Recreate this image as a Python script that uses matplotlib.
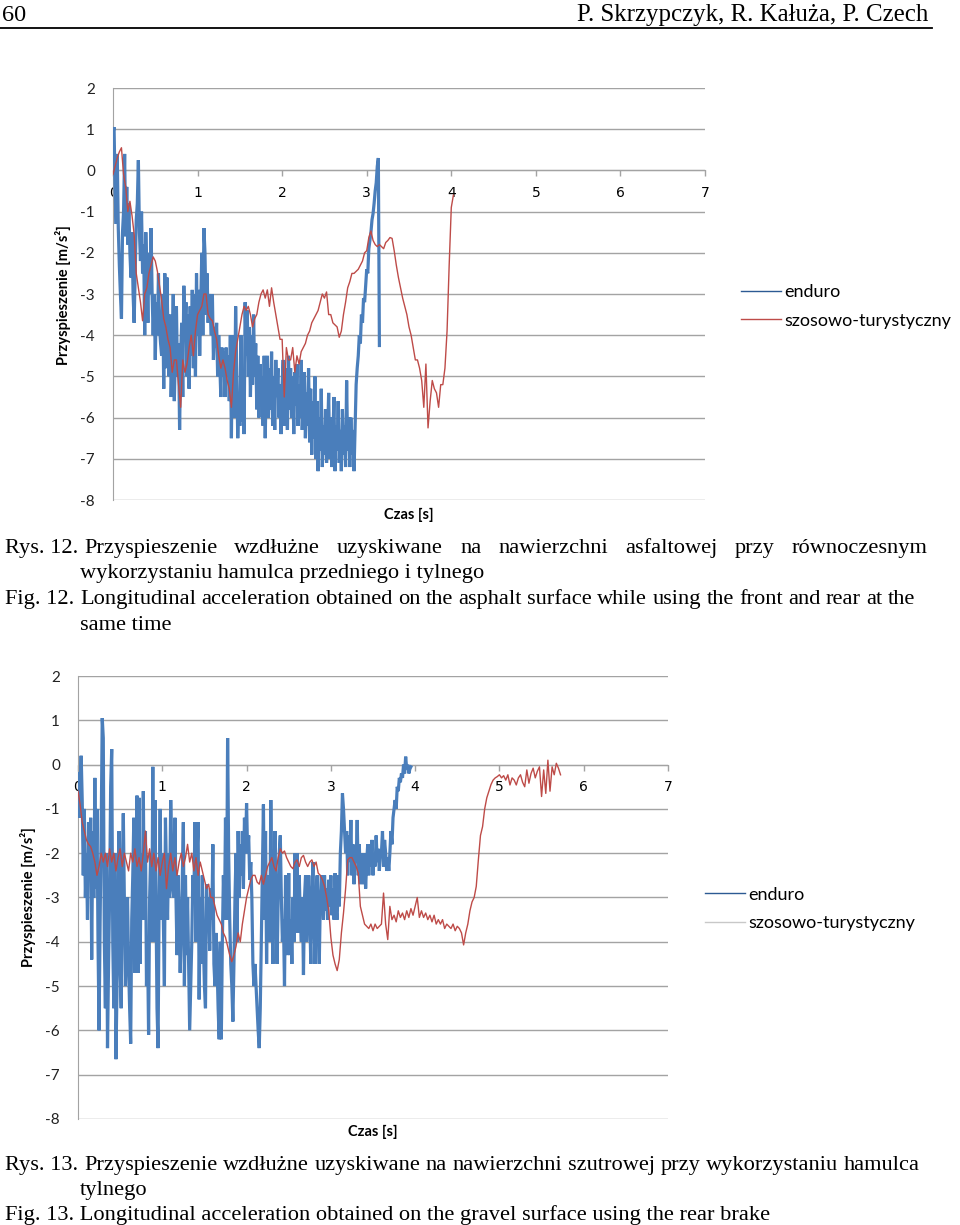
import matplotlib
matplotlib.use('Agg')
import matplotlib.pyplot as plt
from matplotlib.lines import Line2D
import numpy as np

W, H = 960, 1225
SANS = 'Lato'
SERIF = 'Liberation Serif'

BLUE = '#4a7ebb'
RED = '#be4b48'
GRID = '#a3a3a3'

X_TICKS = [0, 1, 2, 3, 4, 5, 6, 7]
Y_TICKS = [2, 1, 0, -1, -2, -3, -4, -5, -6, -7, -8]
SERIES_NAMES = ['enduro', 'szosowo-turystyczny']

DT_ENDURO = 0.0125
DT_SZOSOWY = 0.025

# Rys. 12 - asphalt, front + rear brake
enduro_asfalt = [
    0.9, 1.05, -0.5, -1.3, 0.4, -1.4, -2.3, -3.0,
    -3.6, -1.5, -1.0, 0.4, -1.6, -0.4, -1.8, -0.8,
    -2.0, -2.6, -1.5, -3.0, -3.7, -2.5, -1.2, -0.8,
    0.25, -1.5, -2.2, -1.0, -2.5, -1.8, -4.0, -1.5,
    -2.5, -3.7, -2.0, -3.0, -1.4, -3.0, -4.0, -3.0,
    -4.6, -3.2, -4.0, -2.5, -3.8, -4.2, -4.5, -3.0,
    -5.3, -2.5, -4.8, -2.6, -4.0, -5.0, -3.5, -5.5,
    -4.5, -3.0, -5.6, -4.5, -3.3, -5.0, -4.2, -6.3,
    -4.5, -3.7, -5.5, -2.8, -4.0, -3.2, -5.0, -3.5,
    -5.3, -3.3, -4.5, -2.9, -4.8, -3.0, -5.0, -2.5,
    -4.0, -2.9, -4.5, -3.3, -2.0, -4.0, -1.4, -2.0,
    -3.5, -2.5, -3.7, -3.0, -3.5, -4.0, -3.0, -4.6,
    -3.8, -4.3, -3.7, -5.0, -4.0, -4.7, -5.5, -4.3,
    -5.0, -4.4, -5.5, -4.3, -5.0, -4.5, -5.6, -4.0,
    -6.5, -4.0, -5.6, -6.0, -3.3, -4.8, -6.5, -5.6,
    -6.2, -4.0, -6.1, -5.0, -6.4, -3.2, -4.5, -3.4,
    -5.0, -3.8, -5.5, -4.0, -5.2, -3.5, -5.0, -4.2,
    -5.8, -4.5, -6.0, -4.7, -5.5, -5.0, -6.2, -4.5,
    -6.5, -5.0, -4.5, -6.0, -4.8, -5.8, -4.4, -6.2,
    -5.0, -6.3, -4.6, -5.5, -4.8, -6.0, -5.2, -6.4,
    -5.2, -4.6, -6.2, -4.8, -5.6, -6.3, -4.5, -5.8,
    -4.8, -6.0, -5.0, -6.4, -4.9, -5.7, -4.7, -6.2,
    -5.2, -6.0, -4.6, -6.3, -5.5, -4.9, -6.5, -5.4,
    -6.2, -4.8, -6.6, -5.3, -6.9, -5.6, -6.5, -5.0,
    -7.0, -5.6, -7.3, -6.0, -6.8, -5.3, -7.2, -6.2,
    -6.9, -5.8, -7.1, -6.4, -5.4, -7.0, -6.0, -7.2,
    -6.5, -5.5, -7.3, -6.2, -6.8, -5.6, -7.1, -6.3,
    -7.3, -5.8, -6.9, -6.2, -7.2, -5.1, -6.8, -6.0,
    -7.2, -6.0, -6.9, -6.3, -7.3, -6.2, -5.2, -4.8,
    -4.5, -4.0, -4.2, -3.5, -3.7, -3.1, -3.2, -2.8,
    -2.4, -2.5, -1.9, -1.7, -1.5, -1.2, -1.05, -0.8,
    -0.5, -0.3, 0.1, 0.3, -4.25,
]

szosowy_asfalt = [
    -0.1, 0.1, 0.3, 0.45, 0.55, -0.1, -0.4, -1.0,
    -0.75, -1.1, -1.55, -2.5, -2.85, -3.2, -3.65, -3.0,
    -2.85, -2.5, -2.3, -2.1, -2.2, -2.45, -2.8, -3.15,
    -3.6, -3.8, -4.1, -4.3, -4.9, -4.6, -4.6, -5.2,
    -5.75, -4.6, -4.9, -4.7, -4.3, -4.0, -4.5, -3.9,
    -3.5, -3.4, -3.3, -3.0, -3.0, -3.5, -3.6, -3.65,
    -3.9, -4.1, -4.5, -4.8, -4.6, -4.8, -5.1, -5.3,
    -5.75, -4.9, -4.4, -4.1, -3.8, -3.5, -3.3, -3.4,
    -3.3, -3.5, -3.8, -3.6, -3.5, -3.2, -3.0, -2.9,
    -3.1, -2.9, -3.3, -2.85, -3.2, -3.5, -3.8, -4.1,
    -4.1, -5.5, -4.3, -4.6, -4.6, -4.3, -4.9, -4.5,
    -4.7, -4.4, -4.3, -4.2, -4.0, -3.9, -3.7, -3.6,
    -3.5, -3.4, -3.2, -3.0, -3.1, -2.95, -3.5, -3.5,
    -3.7, -3.75, -3.8, -4.05, -3.9, -3.5, -3.2, -2.85,
    -2.7, -2.5, -2.5, -2.45, -2.4, -2.3, -2.2, -2.0,
    -1.95, -1.63, -1.47, -1.7, -1.8, -1.85, -1.8, -1.85,
    -1.9, -1.75, -1.7, -1.63, -1.65, -1.95, -2.3, -2.6,
    -2.85, -3.1, -3.3, -3.5, -3.8, -4.0, -4.3, -4.6,
    -4.6, -4.8, -5.1, -5.75, -4.7, -6.25, -5.6, -5.1,
    -5.3, -5.4, -5.75, -5.2, -5.2, -4.8, -3.9, -2.3,
    -0.9, -0.6,
]

# Rys. 13 - gravel, rear brake
enduro_szuter = [
    -0.2, -1.2, -0.5, 0.2, -0.8, -2.5, -1.0, -3.0,
    -2.0, -3.5, -1.3, -2.5, -1.2, -4.4, -1.5, -3.0,
    -0.3, -2.8, -1.0, -4.0, -6.0, -3.5, -1.5, 1.05,
    0.6, -4.0, -5.5, -2.0, -6.4, -4.5, -3.0, -0.5,
    0.35, -4.0, -5.5, -2.0, -6.65, -5.0, -3.5, -1.5,
    -4.5, -5.5, -2.5, -1.1, -3.0, -5.0, -4.0, -3.0,
    -4.5, -5.5, -6.3, -3.5, -2.5, -1.2, -4.7, -2.0,
    -0.7, -4.7, -0.75, -4.5, -2.0, -3.5, -0.6, -3.5,
    -1.5, -5.0, -4.0, -6.1, -3.0, -2.0, -4.0, -0.05,
    -4.0, -0.8, -3.0, -5.5, -6.4, -3.0, -1.0, -3.5,
    -2.0, -3.5, -5.0, -1.2, -2.5, -3.5, -2.0, -3.0,
    -0.8, -2.0, -2.8, -3.0, -1.2, -3.0, -4.3, -2.5,
    -3.5, -4.7, -3.8, -2.5, -1.3, -5.0, -2.5, -4.3,
    -3.0, -4.5, -6.0, -5.0, -4.0, -2.5, -3.0, -1.3,
    -4.0, -2.0, -1.3, -5.3, -3.0, -4.5, -2.5, -4.0,
    -5.0, -5.5, -2.7, -3.5, -3.0, -4.2, -2.8, -3.5,
    -1.8, -4.5, -5.0, -3.8, -4.5, -5.5, -6.2, -4.0,
    -6.2, -4.0, -2.5, -3.5, -1.2, -3.5, 0.6, -2.0,
    -3.5, -4.5, -5.0, -5.8, -4.5, -3.0, -2.0, -4.0,
    -1.5, -3.0, -1.8, -2.5, -1.5, -2.8, -1.2, -2.0,
    -0.87, -2.0, -1.6, -2.6, -2.2, -3.0, -4.5, -5.0,
    -4.5, -5.0, -5.5, -6.0, -6.4, -5.5, -4.0, -2.5,
    -0.9, -3.5, -1.5, -4.5, -2.5, -3.0, -4.0, -0.8,
    -3.0, -4.5, -2.5, -1.5, -3.5, -4.5, -3.0, -2.0,
    -1.6, -3.0, -4.0, -3.5, -5.0, -2.5, -3.5, -4.3,
    -2.45, -4.3, -3.5, -4.5, -3.0, -4.0, -2.0, -3.8,
    -2.0, -3.8, -2.5, -3.5, -4.0, -3.0, -4.75, -3.0,
    -2.5, -4.0, -3.2, -2.5, -3.5, -4.5, -3.0, -2.2,
    -3.5, -4.5, -3.0, -2.5, -3.8, -4.5, -3.0, -2.5,
    -3.0, -3.5, -2.5, -3.3, -2.8, -3.5, -2.6, -3.2,
    -2.5, -3.4, -2.8, -3.5, -2.45, -3.3, -3.5, -2.5,
    -3.2, -2.0, -1.5, -0.65, -1.0, -1.5, -2.0, -1.5,
    -2.5, -1.6, -2.2, -1.25, -2.5, -1.8, -2.7, -2.0,
    -2.2, -1.25, -2.5, -1.8, -2.7, -2.0, -2.4, -2.7,
    -2.0, -2.8, -2.2, -1.8, -2.5, -1.8, -2.3, -1.7,
    -2.5, -2.0, -2.3, -1.6, -2.2, -1.9, -2.4, -2.0,
    -2.0, -1.5, -2.3, -1.7, -2.0, -2.4, -2.1, -2.4,
    -2.0, -1.5, -1.8, -1.2, -1.0, -0.8, -1.0, -0.5,
    -0.6, -0.3, -0.4, -0.2, -0.3, 0.0, -0.2, 0.18,
    -0.1, 0.0, -0.2, -0.1, -0.05,
]

szosowy_szuter = [
    -0.6, -0.9, -1.3, -1.5, -1.7, -1.8, -1.85, -2.0,
    -2.2, -2.5, -2.3, -2.0, -2.2, -2.0, -2.3, -1.9,
    -2.2, -2.0, -2.4, -2.1, -1.9, -2.3, -2.0, -2.2,
    -2.4, -2.0, -2.2, -1.9, -2.3, -2.1, -2.4, -2.0,
    -1.5, -2.2, -1.9, -2.3, -2.0, -2.4, -2.1, -2.5,
    -2.2, -2.0, -2.8, -2.3, -2.0, -2.4, -2.1, -2.5,
    -2.2, -2.0, -2.3, -2.1, -1.8, -2.2, -2.0, -2.4,
    -2.1, -2.5, -2.2, -2.4, -2.6, -2.8, -2.7, -3.0,
    -3.0, -3.2, -3.4, -3.5, -3.6, -3.8, -3.9, -4.1,
    -4.3, -4.45, -4.3, -4.1, -3.8, -4.0, -3.6, -3.3,
    -3.0, -2.8, -2.6, -2.5, -2.5, -2.65, -2.7, -2.5,
    -2.7, -2.5, -2.3, -2.2, -2.1, -2.3, -2.4, -2.1,
    -1.9, -2.0, -1.95, -2.1, -2.2, -2.3, -2.35, -2.2,
    -2.15, -2.3, -2.1, -2.05, -2.2, -2.3, -2.2, -2.15,
    -2.3, -2.2, -2.45, -2.5, -2.6, -2.75, -3.0, -3.3,
    -3.9, -4.3, -4.5, -4.65, -4.4, -3.8, -3.35, -2.8,
    -2.15, -2.1, -2.1, -2.2, -2.3, -2.45, -3.2, -3.4,
    -3.6, -3.65, -3.7, -3.6, -3.75, -3.6, -3.7, -3.65,
    -3.6, -2.9, -3.6, -3.95, -3.2, -3.5, -3.4, -3.55,
    -3.3, -3.45, -3.35, -3.5, -3.3, -3.45, -3.25, -3.4,
    -3.2, -3.0, -3.45, -3.3, -3.45, -3.35, -3.5, -3.4,
    -3.55, -3.4, -3.6, -3.5, -3.6, -3.5, -3.7, -3.6,
    -3.65, -3.7, -3.6, -3.75, -3.65, -3.7, -3.8, -4.07,
    -3.8, -3.6, -3.3, -3.1, -3.0, -2.75, -2.15, -1.6,
    -1.4, -1.0, -0.75, -0.6, -0.45, -0.35, -0.3, -0.27,
    -0.23, -0.3, -0.25, -0.35, -0.23, -0.46, -0.3, -0.35,
    -0.46, -0.3, -0.23, -0.4, -0.5, -0.12, -0.42, -0.2,
    -0.08, -0.3, -0.15, -0.05, -0.72, -0.12, -0.65, 0.1,
    -0.6, -0.05, -0.23, 0.03, -0.08, -0.23,
]

CAPTION_12_PL = ['Przyspieszenie', 'wzdłużne', 'uzyskiwane', 'na', 'nawierzchni',
                 'asfaltowej', 'przy', 'równoczesnym']
CAPTION_12_EN = ['Longitudinal', 'acceleration', 'obtained', 'on', 'the', 'asphalt',
                 'surface', 'while', 'using', 'the', 'front', 'and', 'rear', 'at', 'the']
CAPTION_13_PL = ['Przyspieszenie', 'wzdłużne', 'uzyskiwane', 'na', 'nawierzchni',
                 'szutrowej', 'przy', 'wykorzystaniu', 'hamulca']


def fx(px):
    return px / W


def fy(py):
    return 1 - py / H


def draw_chart(ax, enduro, szosowy, legend_grey, leg_anchor, ylab_xy, xlab_xy):
    t_e = np.arange(len(enduro)) * DT_ENDURO
    t_s = np.arange(len(szosowy)) * DT_SZOSOWY
    ax.plot(t_e, enduro, color=BLUE, lw=2.3, solid_joinstyle='miter', zorder=3)
    ax.plot(t_s, szosowy, color=RED, lw=1.0, zorder=4)

    ax.set_xlim(0, 7)
    ax.set_ylim(-8, 2)
    ax.set_yticks(Y_TICKS)
    ax.set_yticklabels([str(v) for v in Y_TICKS], fontsize=11, family=SANS, color='#222222')
    ax.set_xticks(X_TICKS)
    ax.set_xticklabels([str(v) for v in X_TICKS], fontsize=11, family=SANS, color='#222222')
    ax.tick_params(axis='y', length=0, pad=13)
    ax.tick_params(axis='x', length=4, width=1, color=GRID, pad=7, direction='out')
    ax.yaxis.grid(True, color=GRID, lw=1.0)
    ax.set_axisbelow(True)

    ax.spines['top'].set_visible(False)
    ax.spines['right'].set_visible(False)
    ax.spines['left'].set_color(GRID)
    ax.spines['bottom'].set_color(GRID)
    ax.spines['bottom'].set_position(('data', 0))

    ax.set_ylabel('Przyspieszenie [m/s²]', fontsize=10.5, family=SANS, fontweight='bold')
    ax.yaxis.set_label_coords(*ylab_xy)
    ax.set_xlabel('Czas [s]', fontsize=10.5, family=SANS, fontweight='bold')
    ax.xaxis.set_label_coords(*xlab_xy)

    second = '#c8c8c8' if legend_grey else RED
    handles = [Line2D([], [], color='#2c5a93', lw=1.0),
               Line2D([], [], color=second, lw=1.0)]
    ax.legend(handles, SERIES_NAMES, loc='center left', bbox_to_anchor=leg_anchor,
              frameon=False, borderpad=0, borderaxespad=0, handlelength=2.2,
              handletextpad=0.2, labelspacing=0.7,
              prop={'family': SANS, 'size': 13})


def put_justified(fig, words, x0, x1, y, size):
    renderer = fig.canvas.get_renderer()
    items = [fig.text(0, 0, w, fontsize=size, family=SERIF, va='baseline') for w in words]
    widths = [t.get_window_extent(renderer).width for t in items]
    gap = (x1 - x0 - sum(widths)) / (len(words) - 1)
    x = x0
    for t, w in zip(items, widths):
        t.set_position((fx(x), fy(y)))
        x += w + gap


def main():
    fig = plt.figure(figsize=(W / 100, H / 100), dpi=100)

    ax1 = fig.add_axes([fx(113), fy(500), fx(705) - fx(113), fy(88) - fy(500)])
    draw_chart(ax1, enduro_asfalt, szosowy_asfalt, False,
               (1.061, 0.47), (-0.071, 0.498), (0.5, -0.019))

    ax2 = fig.add_axes([fx(78), fy(1119), fx(668) - fx(78), fy(676) - fy(1119)])
    draw_chart(ax2, enduro_szuter, szosowy_szuter, True,
               (1.063, 0.474), (-0.072, 0.501), (0.5, -0.0135))

    # page header
    fig.text(fx(2), fy(21), '60', fontsize=17.5, family=SERIF, va='baseline')
    fig.text(fx(928), fy(21), 'P. Skrzypczyk, R. Kałuża, P. Czech', fontsize=17.9,
             family=SERIF, va='baseline', ha='right')
    fig.add_artist(Line2D([0, fx(932)], [fy(28), fy(28)], transform=fig.transFigure,
                          color='black', lw=1.3))

    # captions
    size = 16.1
    fig.canvas.draw()
    fig.text(fx(5), fy(553), 'Rys. 12.', fontsize=size, family=SERIF, va='baseline')
    put_justified(fig, CAPTION_12_PL, 84, 927, 553, size)
    fig.text(fx(80), fy(578), 'wykorzystaniu hamulca przedniego i tylnego', fontsize=size,
             family=SERIF, va='baseline')
    fig.text(fx(5), fy(604), 'Fig. 12.', fontsize=size, family=SERIF, va='baseline')
    put_justified(fig, CAPTION_12_EN, 80, 915, 604, size)
    fig.text(fx(80), fy(630), 'same time', fontsize=size, family=SERIF, va='baseline')

    fig.text(fx(5), fy(1170), 'Rys. 13.', fontsize=size, family=SERIF, va='baseline')
    put_justified(fig, CAPTION_13_PL, 84, 920, 1170, size)
    fig.text(fx(80), fy(1195), 'tylnego', fontsize=size, family=SERIF, va='baseline')
    fig.text(fx(5), fy(1220), 'Fig. 13. Longitudinal acceleration obtained on the gravel '
             'surface using the rear brake', fontsize=size, family=SERIF, va='baseline')

    fig.savefig('out.png', dpi=100)


if __name__ == "__main__":
    main()
